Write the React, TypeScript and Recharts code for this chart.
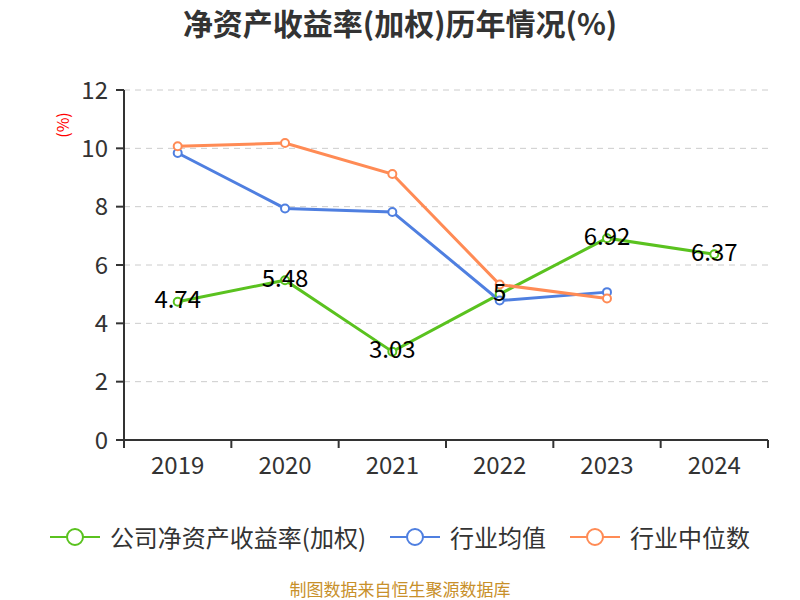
import React from "react";
import { LineChart, Line, XAxis, YAxis, CartesianGrid, LabelList } from "recharts";

const years = ["2019", "2020", "2021", "2022", "2023", "2024"];
const companyRoe = [4.74, 5.48, 3.03, 5, 6.92, 6.37];
const industryAvg = [9.84, 7.94, 7.82, 4.78, 5.07, null];
const industryMedian = [10.07, 10.18, 9.12, 5.33, 4.85, null];
const yTicks = [0, 2, 4, 6, 8, 10, 12];
const edgeTicks = [0, 1, 2, 3, 4, 5, 6];

const GREEN = "#5ac21f";
const BLUE = "#4f7fe0";
const ORANGE = "#ff8b55";
const FONT = '"Noto Sans CJK SC", "Noto Sans", sans-serif';

const data = years.map((year, i) => ({
  year,
  slot: i,
  roe: companyRoe[i],
  avg: industryAvg[i],
  median: industryMedian[i],
}));

const legendItems = [
  { label: "公司净资产收益率(加权)", color: GREEN },
  { label: "行业均值", color: BLUE },
  { label: "行业中位数", color: ORANGE },
];

function LegendIcon({ color }: { color: string }) {
  return (
    <svg width={50} height={20} style={{ display: "block" }}>
      <line x1={0} y1={10} x2={50} y2={10} stroke={color} strokeWidth={2} />
      <circle cx={25} cy={10} r={8} fill="#fff" stroke={color} strokeWidth={2} />
    </svg>
  );
}

// empty tick so only the tick lines of the boundary axis show
const NoLabel = () => <g />;

export default function App() {
  const dot = (color: string) => ({ r: 4, fill: "#fff", stroke: color, strokeWidth: 2 });
  return (
    <div style={{ position: "absolute", left: 0, top: 0, width: 800, height: 600, background: "#fff", fontFamily: FONT }}>
      <div style={{ position: "absolute", top: 3, width: 800, textAlign: "center", fontSize: 30, fontWeight: 700, color: "#333", lineHeight: "38px" }}>
        净资产收益率(加权)历年情况(%)
      </div>
      <div style={{ position: "absolute", left: 52, top: 112, width: 20, height: 26, color: "#f00", fontSize: 16, lineHeight: "20px" }}>
        <div style={{ transform: "rotate(-90deg)", transformOrigin: "center", whiteSpace: "nowrap", width: 26, marginLeft: -3, marginTop: 3, textAlign: "center" }}>(%)</div>
      </div>
      <LineChart width={800} height={480} data={data} margin={{ top: 90, right: 32, bottom: 0, left: 0 }}>
        <CartesianGrid xAxisId="year" vertical={false} stroke="#ccc" strokeDasharray="6 5" />
        <XAxis xAxisId="edge" dataKey="slot" type="number" scale="linear" domain={[0, 6]} allowDataOverflow
          ticks={edgeTicks} tickCount={7} height={1} interval={0}
          tick={NoLabel} tickSize={8} tickLine={{ stroke: "#333", strokeWidth: 2 }} axisLine={{ stroke: "#333", strokeWidth: 2 }} />
        <XAxis xAxisId="year" dataKey="year" height={39} axisLine={false} tickLine={false} tickMargin={10}
          padding={{ left: 53.7, right: 53.7 }} tick={{ fontSize: 24, fill: "#333" }} />
        <YAxis width={124} domain={[0, 12]} ticks={yTicks} interval={0} tickSize={8} tickMargin={8}
          tick={{ fontSize: 24, fill: "#333" }} tickLine={{ stroke: "#333", strokeWidth: 2 }} axisLine={{ stroke: "#333", strokeWidth: 2 }} />
        <Line xAxisId="year" dataKey="roe" stroke={GREEN} strokeWidth={3} dot={dot(GREEN)} isAnimationActive={false}>
          <LabelList dataKey="roe" position="center" dy={-2} fontSize={24} fill="#000" />
        </Line>
        <Line xAxisId="year" dataKey="avg" stroke={BLUE} strokeWidth={3} dot={dot(BLUE)} isAnimationActive={false} />
        <Line xAxisId="year" dataKey="median" stroke={ORANGE} strokeWidth={3} dot={dot(ORANGE)} isAnimationActive={false} />
      </LineChart>
      <div style={{ position: "absolute", top: 520, width: 800, display: "flex", justifyContent: "center", alignItems: "center", gap: 24 }}>
        {legendItems.map((item) => (
          <div key={item.label} style={{ display: "flex", alignItems: "center", gap: 10 }}>
            <LegendIcon color={item.color} />
            <span style={{ fontSize: 24, color: "#333", lineHeight: "34px" }}>{item.label}</span>
          </div>
        ))}
      </div>
      <div style={{ position: "absolute", top: 579, width: 800, textAlign: "center", fontSize: 17, color: "#c8902a", lineHeight: "20px" }}>
        制图数据来自恒生聚源数据库
      </div>
    </div>
  );
}
